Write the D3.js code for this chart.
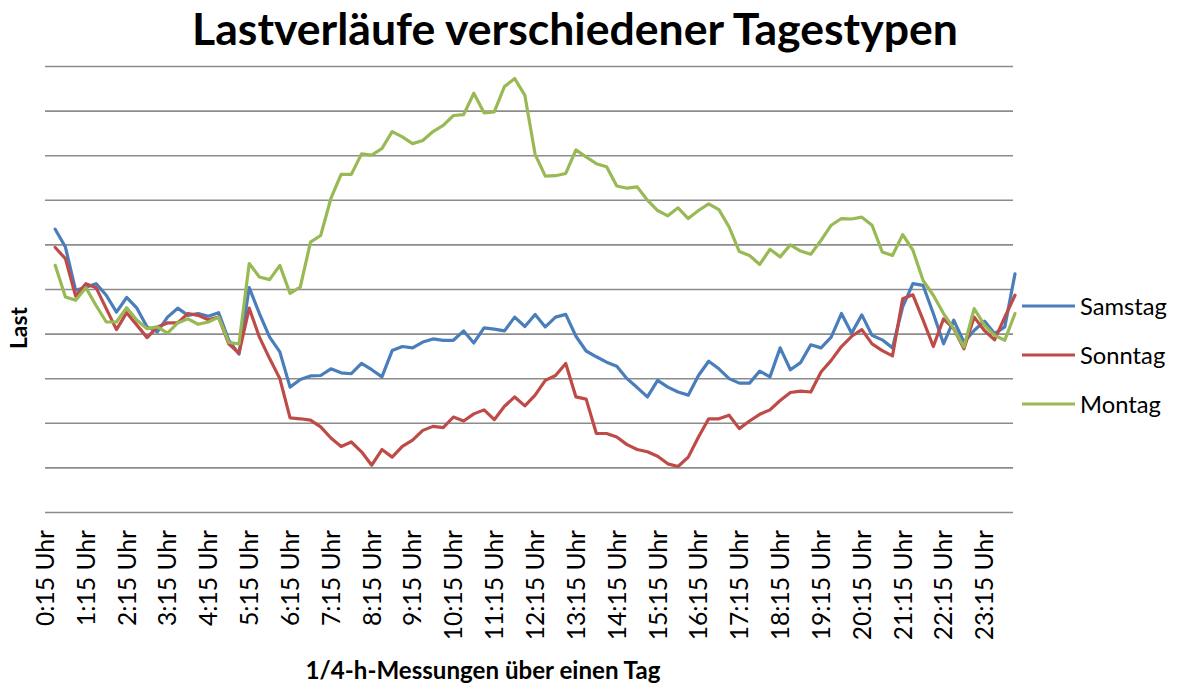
<!DOCTYPE html>
<html>
<head>
<meta charset="utf-8">
<script src="https://cdn.jsdelivr.net/npm/d3@7"></script>
<style>
  html, body { margin: 0; padding: 0; background: #fff; }
  svg { display: block; }
  text { font-family: Lato, "Open Sans", "Liberation Sans", sans-serif; fill: #000; }
</style>
</head>
<body>
<svg id="chart" width="1178" height="684"></svg>
<script>
// ---------- data ----------
const titleText = "Lastverläufe verschiedener Tagestypen";
const yTitle = "Last";
const xTitle = "1/4-h-Messungen über einen Tag";
const seriesNames = ["Samstag", "Sonntag", "Montag"];
const seriesColors = ["#4A7EBB", "#BE4B48", "#98B954"];

// 96 quarter-hour categories: 0:15 Uhr ... 24:00 Uhr
const categories = [];
for (let h = 0; h < 24; h++) {
  for (const m of [15, 30, 45, 60]) {
    categories.push(m === 60 ? `${h + 1}:00 Uhr` : `${h}:${m} Uhr`);
  }
}
// tick labels shown every hour (xx:15)
const tickLabels = categories.filter(c => /:15 Uhr$/.test(c));

// values (first quarter-hour has no value)
const samstag = [null,
 6.34,5.94,4.97,5.04,5.12,4.86,4.48,4.81,4.57,4.15,4.04,4.37,4.57,4.41,4.45,4.39,4.47,3.85,3.54,5.03,
 4.45,3.92,3.59,2.80,2.97,3.05,3.06,3.21,3.12,3.10,3.33,3.19,3.03,3.62,3.71,3.68,3.81,3.88,3.85,3.85,
 4.06,3.79,4.13,4.10,4.06,4.37,4.16,4.43,4.15,4.37,4.43,3.94,3.61,3.48,3.36,3.27,2.99,2.79,2.58,2.95,
 2.80,2.69,2.62,3.06,3.38,3.21,2.99,2.89,2.89,3.16,3.03,3.68,3.19,3.35,3.75,3.68,3.92,4.45,4.01,4.42,
 3.96,3.86,3.68,4.60,5.12,5.08,4.45,3.77,4.30,3.81,4.07,4.28,4.00,4.15,5.34];
const sonntag = [null,
 5.93,5.68,4.84,5.12,5.03,4.56,4.09,4.47,4.19,3.91,4.15,4.24,4.24,4.45,4.41,4.31,4.37,3.77,3.56,4.57,
 3.92,3.44,2.99,2.11,2.09,2.06,1.91,1.66,1.47,1.57,1.35,1.05,1.40,1.23,1.47,1.61,1.83,1.92,1.89,2.13,
 2.04,2.20,2.29,2.07,2.37,2.58,2.38,2.62,2.95,3.06,3.33,2.58,2.53,1.76,1.76,1.68,1.51,1.40,1.35,1.25,
 1.08,1.02,1.23,1.68,2.09,2.09,2.17,1.87,2.04,2.19,2.29,2.50,2.68,2.71,2.69,3.14,3.40,3.71,3.94,4.09,
 3.77,3.62,3.50,4.78,4.87,4.30,3.71,4.33,4.11,3.66,4.37,4.07,3.86,4.37,4.86];
const montag = [null,
 5.53,4.82,4.75,5.03,4.63,4.26,4.26,4.58,4.30,4.11,4.15,4.01,4.24,4.33,4.21,4.26,4.37,3.80,3.77,5.57,
 5.27,5.21,5.53,4.90,5.04,6.05,6.20,7.03,7.57,7.57,8.03,8.00,8.15,8.53,8.41,8.26,8.33,8.53,8.67,8.89,
 8.91,9.39,8.95,8.97,9.54,9.72,9.34,8.02,7.53,7.54,7.59,8.12,7.96,7.81,7.74,7.31,7.26,7.29,6.99,6.76,
 6.64,6.82,6.58,6.76,6.91,6.78,6.39,5.84,5.75,5.55,5.89,5.72,5.99,5.85,5.78,6.09,6.43,6.58,6.57,6.61,
 6.43,5.83,5.75,6.22,5.87,5.19,4.86,4.45,4.11,3.70,4.56,4.19,3.96,3.85,4.45];
const yTicks = [0,1,2,3,4,5,6,7,8,9,10];

// ---------- layout ----------
const svg = d3.select("#chart");
const plot = { left: 45, right: 1015, top: 66, bottom: 512 };

const x = d3.scalePoint().domain(categories).range([plot.left, plot.right]);
const y = d3.scaleLinear().domain([0, 10]).range([plot.bottom, plot.top]);

function fit(sel, target, base) {
  sel.style("font-size", base + "px");
  const w = sel.node().getComputedTextLength();
  const fs = base * target / w;
  sel.style("font-size", fs + "px");
  return fs;
}

// gridlines via axis
const grid = svg.append("g")
  .attr("transform", `translate(${plot.left},0)`)
  .call(d3.axisLeft(y).tickValues(yTicks).tickSize(-(plot.right - 2 - plot.left)).tickFormat(""));
grid.select(".domain").remove();
grid.selectAll(".tick line").attr("stroke", "#8c8c8c").attr("stroke-width", 1.6);

// x tick labels
const xAxis = svg.append("g");
const probe = xAxis.append("text").text("0:15 Uhr");
const tickFs = fit(probe, 96, 20);
probe.remove();
xAxis.selectAll("text.tick")
  .data(tickLabels)
  .join("text")
  .attr("class", "tick")
  .attr("transform", d => `translate(${x(d) + 0.36 * tickFs},530) rotate(-90)`)
  .attr("text-anchor", "end")
  .style("font-size", tickFs + "px")
  .text(d => d);

// lines
const series = [samstag, sonntag, montag];
const line = d3.line()
  .defined(d => d[1] !== null)
  .x(d => x(d[0]))
  .y(d => y(d[1]));
series.forEach((vals, k) => {
  svg.append("path")
    .datum(categories.map((c, i) => [c, vals[i]]))
    .attr("fill", "none")
    .attr("stroke", seriesColors[k])
    .attr("stroke-width", 3.2)
    .attr("stroke-linejoin", "round")
    .attr("stroke-linecap", "round")
    .attr("d", line);
});

// title
const t = svg.append("text")
  .attr("x", 575).attr("y", 45)
  .attr("text-anchor", "middle")
  .style("font-weight", "bold")
  .text(titleText);
fit(t, 766, 40);

// y title
const yt = svg.append("text")
  .attr("transform", "translate(27,328) rotate(-90)")
  .attr("text-anchor", "middle")
  .style("font-weight", "bold")
  .text(yTitle);
fit(yt, 42, 20);

// x title
const xt = svg.append("text")
  .attr("x", 483).attr("y", 679)
  .attr("text-anchor", "middle")
  .style("font-weight", "bold")
  .text(xTitle);
fit(xt, 355, 20);

// legend
const legY = [306, 355, 404];
const leg = svg.append("g");
let legFs = null;
seriesNames.forEach((name, k) => {
  leg.append("line")
    .attr("x1", 1022).attr("x2", 1075)
    .attr("y1", legY[k]).attr("y2", legY[k])
    .attr("stroke", seriesColors[k]).attr("stroke-width", 3.2);
  const tx = leg.append("text")
    .attr("x", 1080)
    .text(name);
  if (legFs === null) legFs = fit(tx, 87, 22);
  tx.style("font-size", legFs + "px").attr("y", legY[k] + 0.36 * legFs);
});
</script>
</body>
</html>
